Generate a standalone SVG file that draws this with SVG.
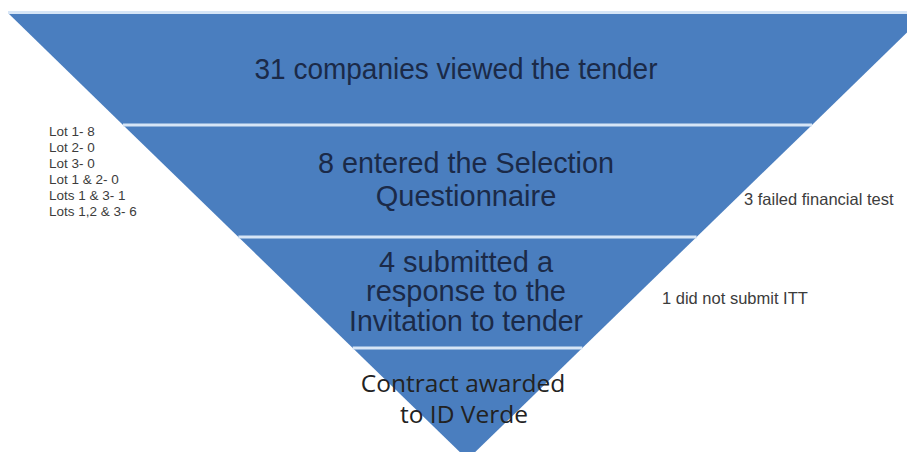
<svg xmlns="http://www.w3.org/2000/svg" width="907" height="452" viewBox="0 0 907 452">
  <style>
    .band { fill: #4a7ebf; }
    .sep { stroke: #d6e5f6; stroke-width: 3; }
    .main { font-family: "Liberation Sans", Arial, sans-serif; font-size: 29px; fill: #1b2a48; text-anchor: middle; }
    .last { font-family: "Open Sans", "Noto Sans", sans-serif; font-size: 24.5px; fill: #222; text-anchor: middle; }
    .note { font-family: "Liberation Sans", Arial, sans-serif; font-size: 13.5px; fill: #3c3c3c; }
    .note2 { font-family: "Liberation Sans", Arial, sans-serif; font-size: 16.5px; fill: #3c3c3c; }
  </style>
  <rect width="907" height="452" fill="#ffffff"/>
  <g id="band1">
    <polygon class="band" points="8,13 927,13 812,125 123,125"/>
    <text class="main" x="456" y="79" textLength="403" lengthAdjust="spacingAndGlyphs">31 companies viewed the tender</text>
  </g>
  <g id="band2">
    <polygon class="band" points="123,125 812,125 696.6,237 238.4,237"/>
    <text class="main" x="466" y="173" textLength="296" lengthAdjust="spacingAndGlyphs">8 entered the Selection</text>
    <text class="main" x="466" y="206">Questionnaire</text>
  </g>
  <g id="band3">
    <polygon class="band" points="238.4,237 696.6,237 582.3,348 352.7,348"/>
    <text class="main" x="466" y="272">4 submitted a</text>
    <text class="main" x="466" y="301">response to the</text>
    <text class="main" x="466" y="331" textLength="234" lengthAdjust="spacingAndGlyphs">Invitation to tender</text>
  </g>
  <g id="band4">
    <polygon class="band" points="352.7,348 582.3,348 467.5,459.5"/>
    <text class="last" x="463" y="392">Contract awarded</text>
    <text class="last" x="464" y="423">to ID Verde</text>
  </g>
  <g id="separators">
    <line class="sep" x1="8" y1="12.5" x2="907" y2="12.5" stroke-width="2"/>
    <line class="sep" x1="123" y1="125" x2="812" y2="125"/>
    <line class="sep" x1="238.4" y1="237" x2="696.6" y2="237"/>
    <line class="sep" x1="352.7" y1="348" x2="582.3" y2="348"/>
  </g>
  <g id="lots-note">
    <text class="note" x="49" y="136">Lot 1- 8</text>
    <text class="note" x="49" y="152">Lot 2- 0</text>
    <text class="note" x="49" y="168">Lot 3- 0</text>
    <text class="note" x="49" y="184">Lot 1 &amp; 2- 0</text>
    <text class="note" x="49" y="200">Lots 1 &amp; 3- 1</text>
    <text class="note" x="49" y="216">Lots 1,2 &amp; 3- 6</text>
  </g>
  <g id="financial-note">
    <text class="note2" x="744" y="205">3 failed financial test</text>
  </g>
  <g id="itt-note">
    <text class="note2" x="662" y="304">1 did not submit ITT</text>
  </g>
  <g id="connectors"/>
</svg>
